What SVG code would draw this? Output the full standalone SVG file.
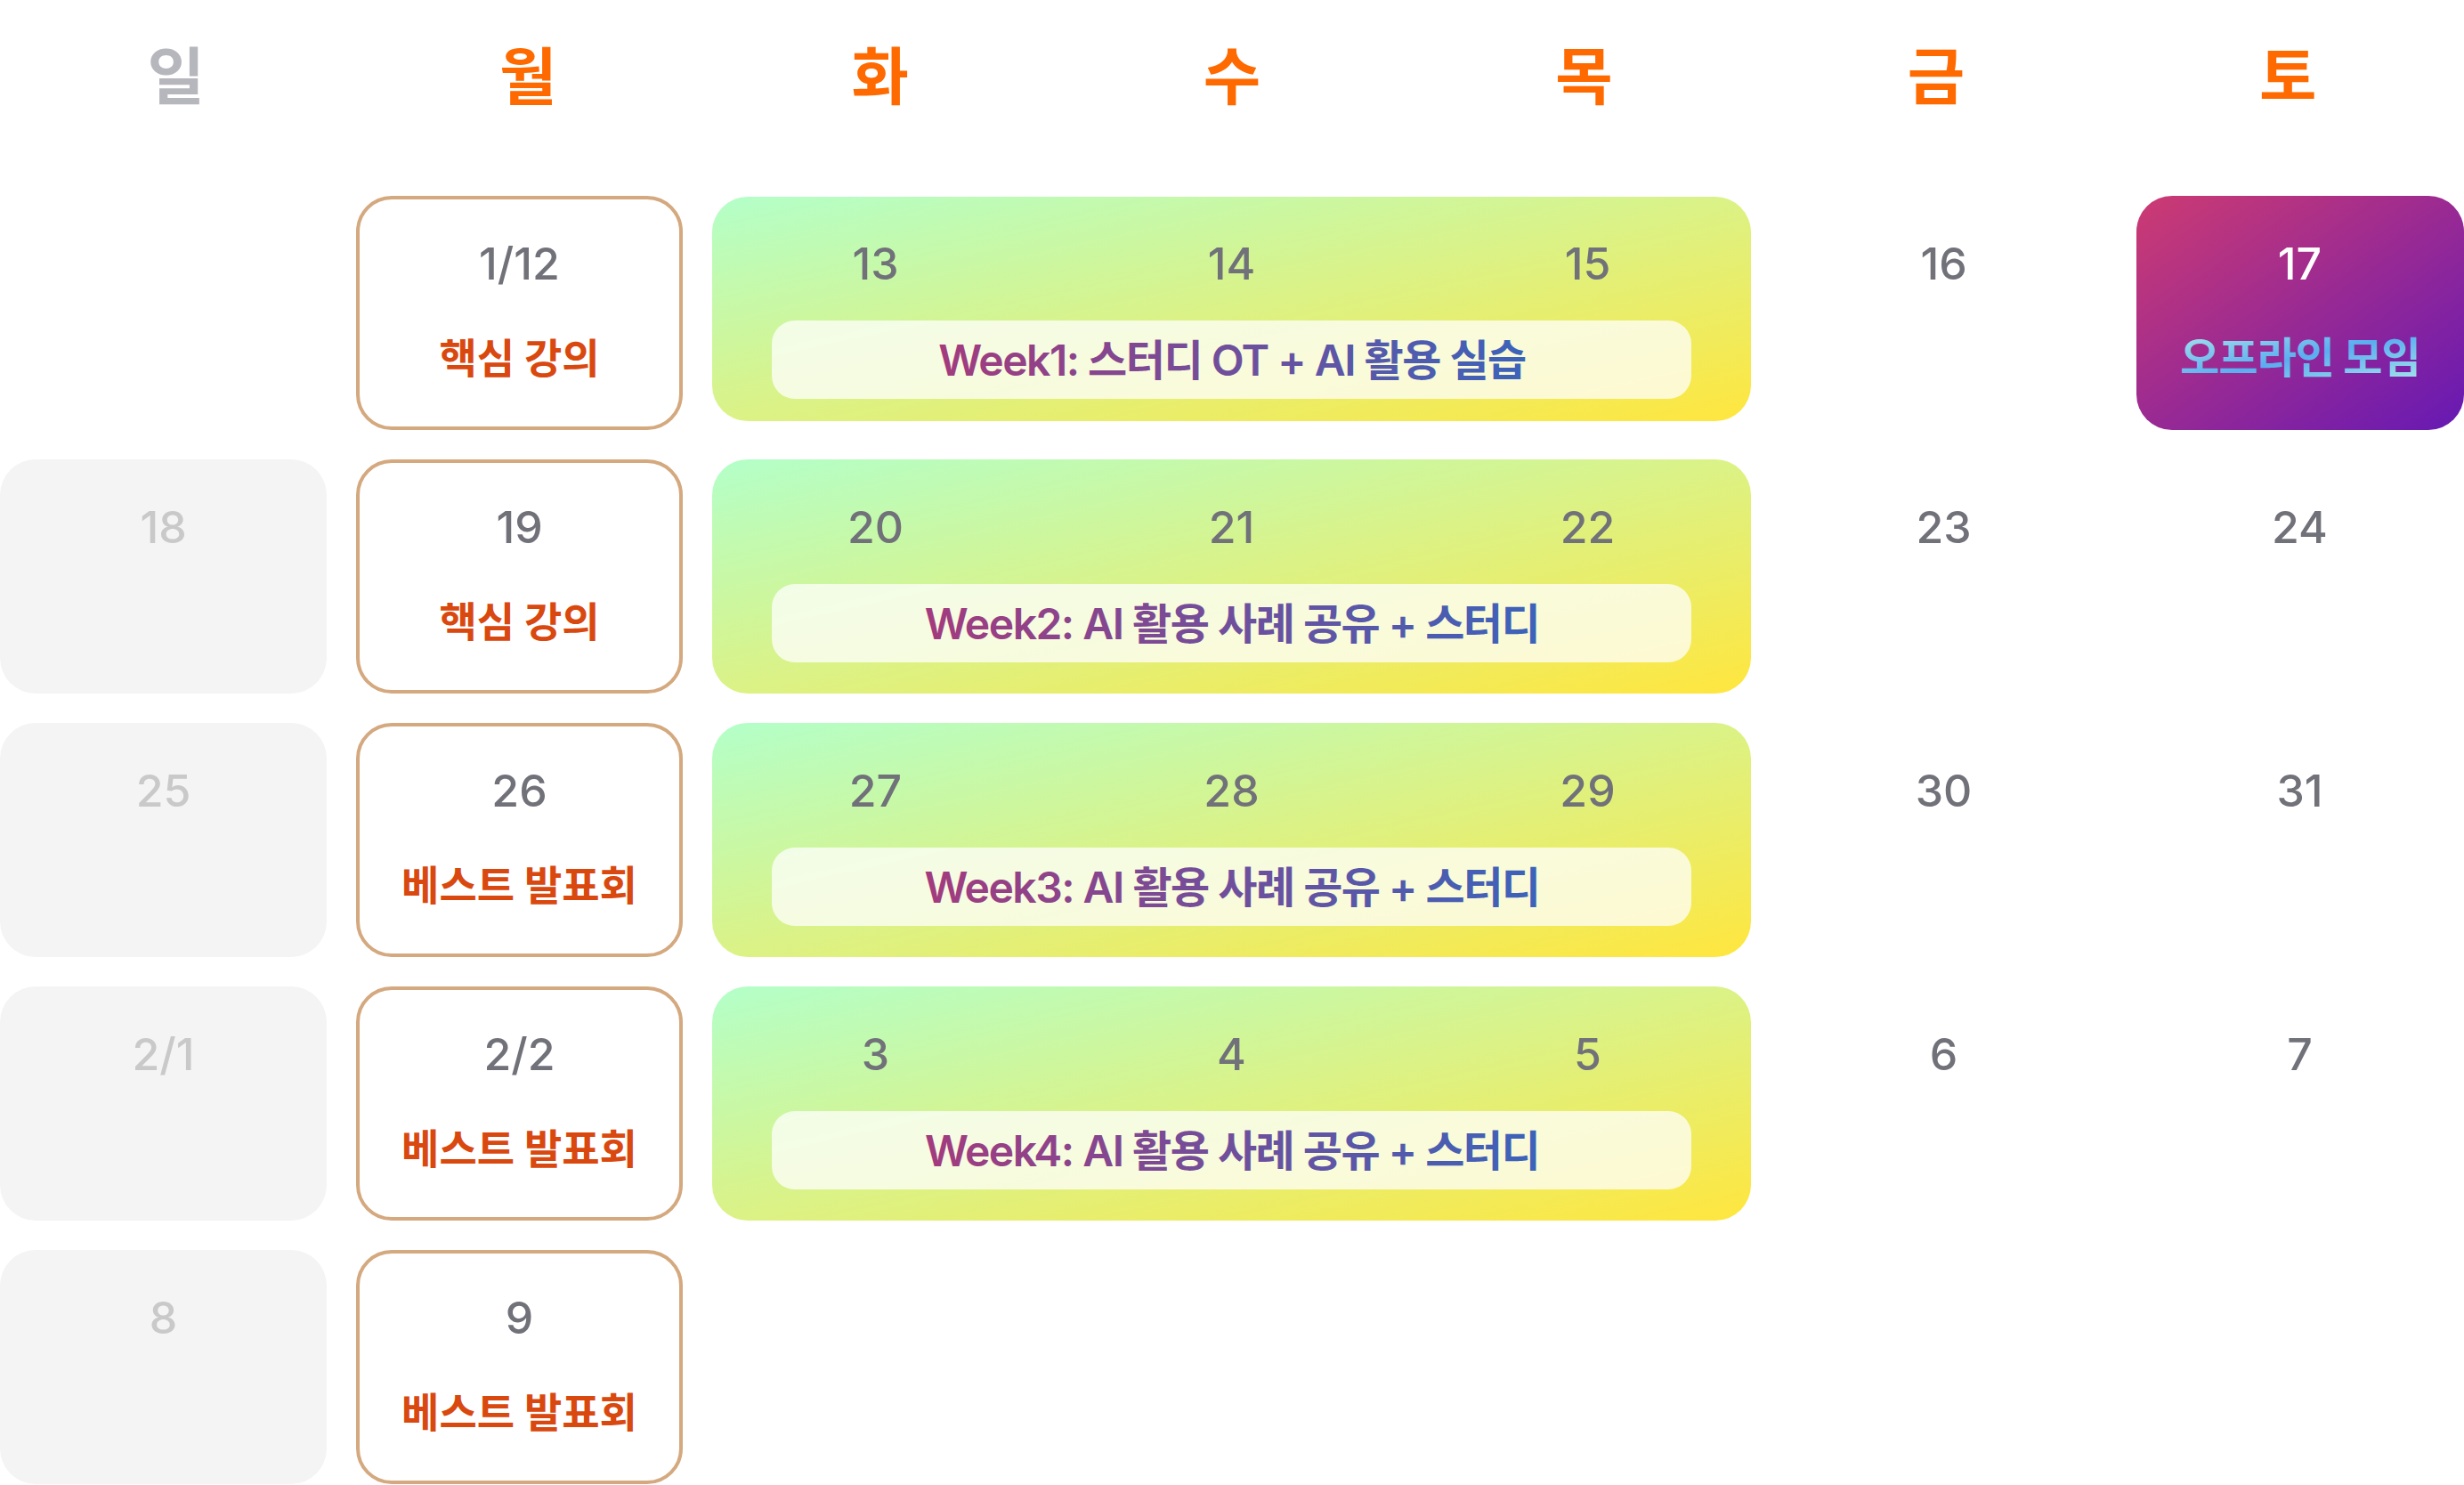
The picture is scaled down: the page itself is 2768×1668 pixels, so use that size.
<svg xmlns="http://www.w3.org/2000/svg" width="2768" height="1668" viewBox="0 0 2768 1668">
<defs>
<linearGradient id="gWeek" x1="0" y1="0" x2="1" y2="1">
<stop offset="0" stop-color="#b3ffc9"/>
<stop offset="0.5" stop-color="#dbf286"/>
<stop offset="1" stop-color="#ffe63e"/>
</linearGradient>
<linearGradient id="gSat" x1="0" y1="0" x2="1" y2="1">
<stop offset="0" stop-color="#cd3b72"/>
<stop offset="1" stop-color="#6619b4"/>
</linearGradient>
<linearGradient id="gWeekText" x1="0" y1="0" x2="1" y2="0">
<stop offset="0" stop-color="#a33b7e"/>
<stop offset="1" stop-color="#3b63ba"/>
</linearGradient>
<linearGradient id="gOff" x1="0" y1="0" x2="1" y2="1">
<stop offset="0" stop-color="#abe6ea"/>
<stop offset="0.5" stop-color="#5aadf0"/>
<stop offset="1" stop-color="#abe6ea"/>
</linearGradient>
<style>
text{font-family:Inter,"Noto Sans CJK KR",sans-serif;text-anchor:middle}
.hd{font-size:70px;font-weight:700;fill:#ff6a00}
.hd.sun{fill:#b6b6bd}
.dt{font-size:50px;font-weight:500;fill:#71717a}
.dt.sun{fill:#c9c9c9}
.dt.sat{fill:#ffffff}
.lb{font-size:46px;font-weight:700;fill:#d9480f}
.wk{font-size:48px;font-weight:600;fill:url(#gWeekText);letter-spacing:-1.5px}
.off{font-size:48px;font-weight:700;fill:url(#gOff);letter-spacing:-1px}
.sunc{fill:#f4f4f4}
.monc{fill:#ffffff;stroke:#d4a97f;stroke-width:4}
.wkc{fill:url(#gWeek)}
.bar{fill:#ffffff;fill-opacity:0.75}
</style>
</defs>
<rect width="2768" height="1668" fill="#ffffff"/>

<g id="headers">
<text class="hd sun" x="197.7" y="112">일</text>
<text class="hd" x="593.1" y="112">월</text>
<text class="hd" x="988.6" y="112">화</text>
<text class="hd" x="1384" y="112">수</text>
<text class="hd" x="1779.4" y="112">목</text>
<text class="hd" x="2174.9" y="112">금</text>
<text class="hd" x="2570.3" y="112">토</text>
</g>

<g id="connectors"></g>

<!-- Row 1 -->
<g id="mon-1-12">
<rect class="monc" x="402" y="222" width="363" height="259" rx="38"/>
<text class="dt" x="583.5" y="314">1/12</text>
<text class="lb" x="583.5" y="419">핵심 강의</text>
</g>
<g id="week1">
<rect class="wkc" x="800" y="221" width="1167" height="252" rx="40"/>
<text class="dt" x="983.5" y="314">13</text>
<text class="dt" x="1383.5" y="314">14</text>
<text class="dt" x="1783.5" y="314">15</text>
<rect class="bar" x="867" y="360" width="1033" height="88" rx="26"/>
<text class="wk" x="1384" y="422">Week1: 스터디 OT + AI 활용 실습</text>
</g>
<g id="fri-16"><text class="dt" x="2183.5" y="314">16</text></g>
<g id="sat-17">
<rect x="2400" y="220" width="368" height="263" rx="40" fill="url(#gSat)"/>
<text class="dt sat" x="2583.5" y="314">17</text>
<text class="off" x="2584" y="419">오프라인 모임</text>
</g>

<!-- Row 2 -->
<g id="sun-18">
<rect class="sunc" x="0" y="516" width="367" height="263" rx="40"/>
<text class="dt sun" x="183.5" y="610">18</text>
</g>
<g id="mon-19">
<rect class="monc" x="402" y="518" width="363" height="259" rx="38"/>
<text class="dt" x="583.5" y="610">19</text>
<text class="lb" x="583.5" y="715">핵심 강의</text>
</g>
<g id="week2">
<rect class="wkc" x="800" y="516" width="1167" height="263" rx="40"/>
<text class="dt" x="983.5" y="610">20</text>
<text class="dt" x="1383.5" y="610">21</text>
<text class="dt" x="1783.5" y="610">22</text>
<rect class="bar" x="867" y="656" width="1033" height="88" rx="26"/>
<text class="wk" x="1384" y="718">Week2: AI 활용 사례 공유 + 스터디</text>
</g>
<g id="fri-23"><text class="dt" x="2183.5" y="610">23</text></g>
<g id="sat-24"><text class="dt" x="2583.5" y="610">24</text></g>

<!-- Row 3 -->
<g id="sun-25">
<rect class="sunc" x="0" y="812" width="367" height="263" rx="40"/>
<text class="dt sun" x="183.5" y="906">25</text>
</g>
<g id="mon-26">
<rect class="monc" x="402" y="814" width="363" height="259" rx="38"/>
<text class="dt" x="583.5" y="906">26</text>
<text class="lb" x="583.5" y="1011">베스트 발표회</text>
</g>
<g id="week3">
<rect class="wkc" x="800" y="812" width="1167" height="263" rx="40"/>
<text class="dt" x="983.5" y="906">27</text>
<text class="dt" x="1383.5" y="906">28</text>
<text class="dt" x="1783.5" y="906">29</text>
<rect class="bar" x="867" y="952" width="1033" height="88" rx="26"/>
<text class="wk" x="1384" y="1014">Week3: AI 활용 사례 공유 + 스터디</text>
</g>
<g id="fri-30"><text class="dt" x="2183.5" y="906">30</text></g>
<g id="sat-31"><text class="dt" x="2583.5" y="906">31</text></g>

<!-- Row 4 -->
<g id="sun-2-1">
<rect class="sunc" x="0" y="1108" width="367" height="263" rx="40"/>
<text class="dt sun" x="183.5" y="1202">2/1</text>
</g>
<g id="mon-2-2">
<rect class="monc" x="402" y="1110" width="363" height="259" rx="38"/>
<text class="dt" x="583.5" y="1202">2/2</text>
<text class="lb" x="583.5" y="1307">베스트 발표회</text>
</g>
<g id="week4">
<rect class="wkc" x="800" y="1108" width="1167" height="263" rx="40"/>
<text class="dt" x="983.5" y="1202">3</text>
<text class="dt" x="1383.5" y="1202">4</text>
<text class="dt" x="1783.5" y="1202">5</text>
<rect class="bar" x="867" y="1248" width="1033" height="88" rx="26"/>
<text class="wk" x="1384" y="1310">Week4: AI 활용 사례 공유 + 스터디</text>
</g>
<g id="fri-6"><text class="dt" x="2183.5" y="1202">6</text></g>
<g id="sat-7"><text class="dt" x="2583.5" y="1202">7</text></g>

<!-- Row 5 -->
<g id="sun-8">
<rect class="sunc" x="0" y="1404" width="367" height="263" rx="40"/>
<text class="dt sun" x="183.5" y="1498">8</text>
</g>
<g id="mon-9">
<rect class="monc" x="402" y="1406" width="363" height="259" rx="38"/>
<text class="dt" x="583.5" y="1498">9</text>
<text class="lb" x="583.5" y="1603">베스트 발표회</text>
</g>
</svg>
